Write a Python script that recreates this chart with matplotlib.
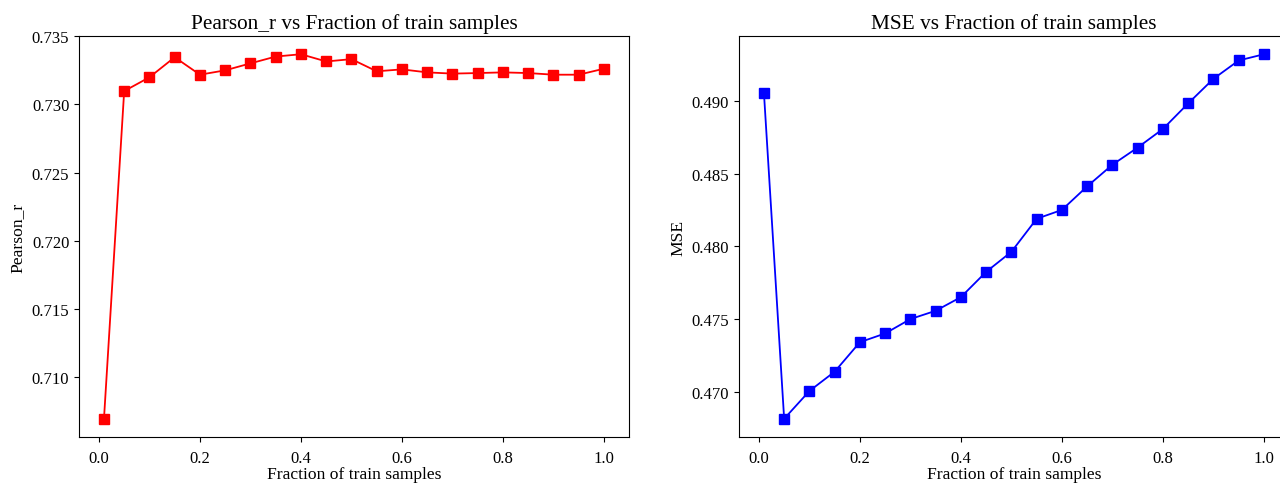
import matplotlib
matplotlib.use("Agg")
import matplotlib.pyplot as plt

plt.rcParams['font.family'] = ['Liberation Serif', 'DejaVu Serif']

fractions = [0.01, 0.05, 0.1, 0.15, 0.2, 0.25, 0.3, 0.35, 0.4, 0.45, 0.5,
             0.55, 0.6, 0.65, 0.7, 0.75, 0.8, 0.85, 0.9, 0.95, 1.0]
pearson_r = [0.70695, 0.73097, 0.73198, 0.73345, 0.73217, 0.73249, 0.73300,
             0.73350, 0.73367, 0.73314, 0.73331, 0.73242, 0.73256, 0.73234,
             0.73225, 0.73229, 0.73234, 0.73229, 0.73217, 0.73217, 0.73261]
mse = [0.49055, 0.46814, 0.47005, 0.47138, 0.47341, 0.47401, 0.47500,
       0.47557, 0.47651, 0.47825, 0.47963, 0.48190, 0.48251, 0.48413,
       0.48562, 0.48680, 0.48808, 0.48984, 0.49153, 0.49279, 0.49322]

fs_tick = 12
fs_label = 12.6
fs_title = 15.3

fig = plt.figure(figsize=(12.8, 4.85), dpi=100)
# right panel runs a bit past the figure edge, like the cropped original
ax1 = fig.add_axes([0.0617, 0.0969, 0.4297, 0.8268])
ax2 = fig.add_axes([0.5773, 0.0969, 0.4297, 0.8268])

ax1.plot(fractions, pearson_r, 's-', color='red', markersize=7, linewidth=1.3)
ax1.set_title('Pearson_r vs Fraction of train samples', fontsize=fs_title)
ax1.set_xlabel('Fraction of train samples', fontsize=fs_label, labelpad=0)
ax1.set_ylabel('Pearson_r', fontsize=fs_label)

ax2.plot(fractions, mse, 's-', color='blue', markersize=7, linewidth=1.3)
ax2.set_title('MSE vs Fraction of train samples', fontsize=fs_title)
ax2.set_xlabel('Fraction of train samples', fontsize=fs_label, labelpad=0)
ax2.set_ylabel('MSE', fontsize=fs_label)

for ax in (ax1, ax2):
    ax.tick_params(labelsize=fs_tick)
    ax.tick_params(axis='x', pad=6)
    ax.set_xticks([0.0, 0.2, 0.4, 0.6, 0.8, 1.0])

fig.savefig('out.png', dpi=100)
